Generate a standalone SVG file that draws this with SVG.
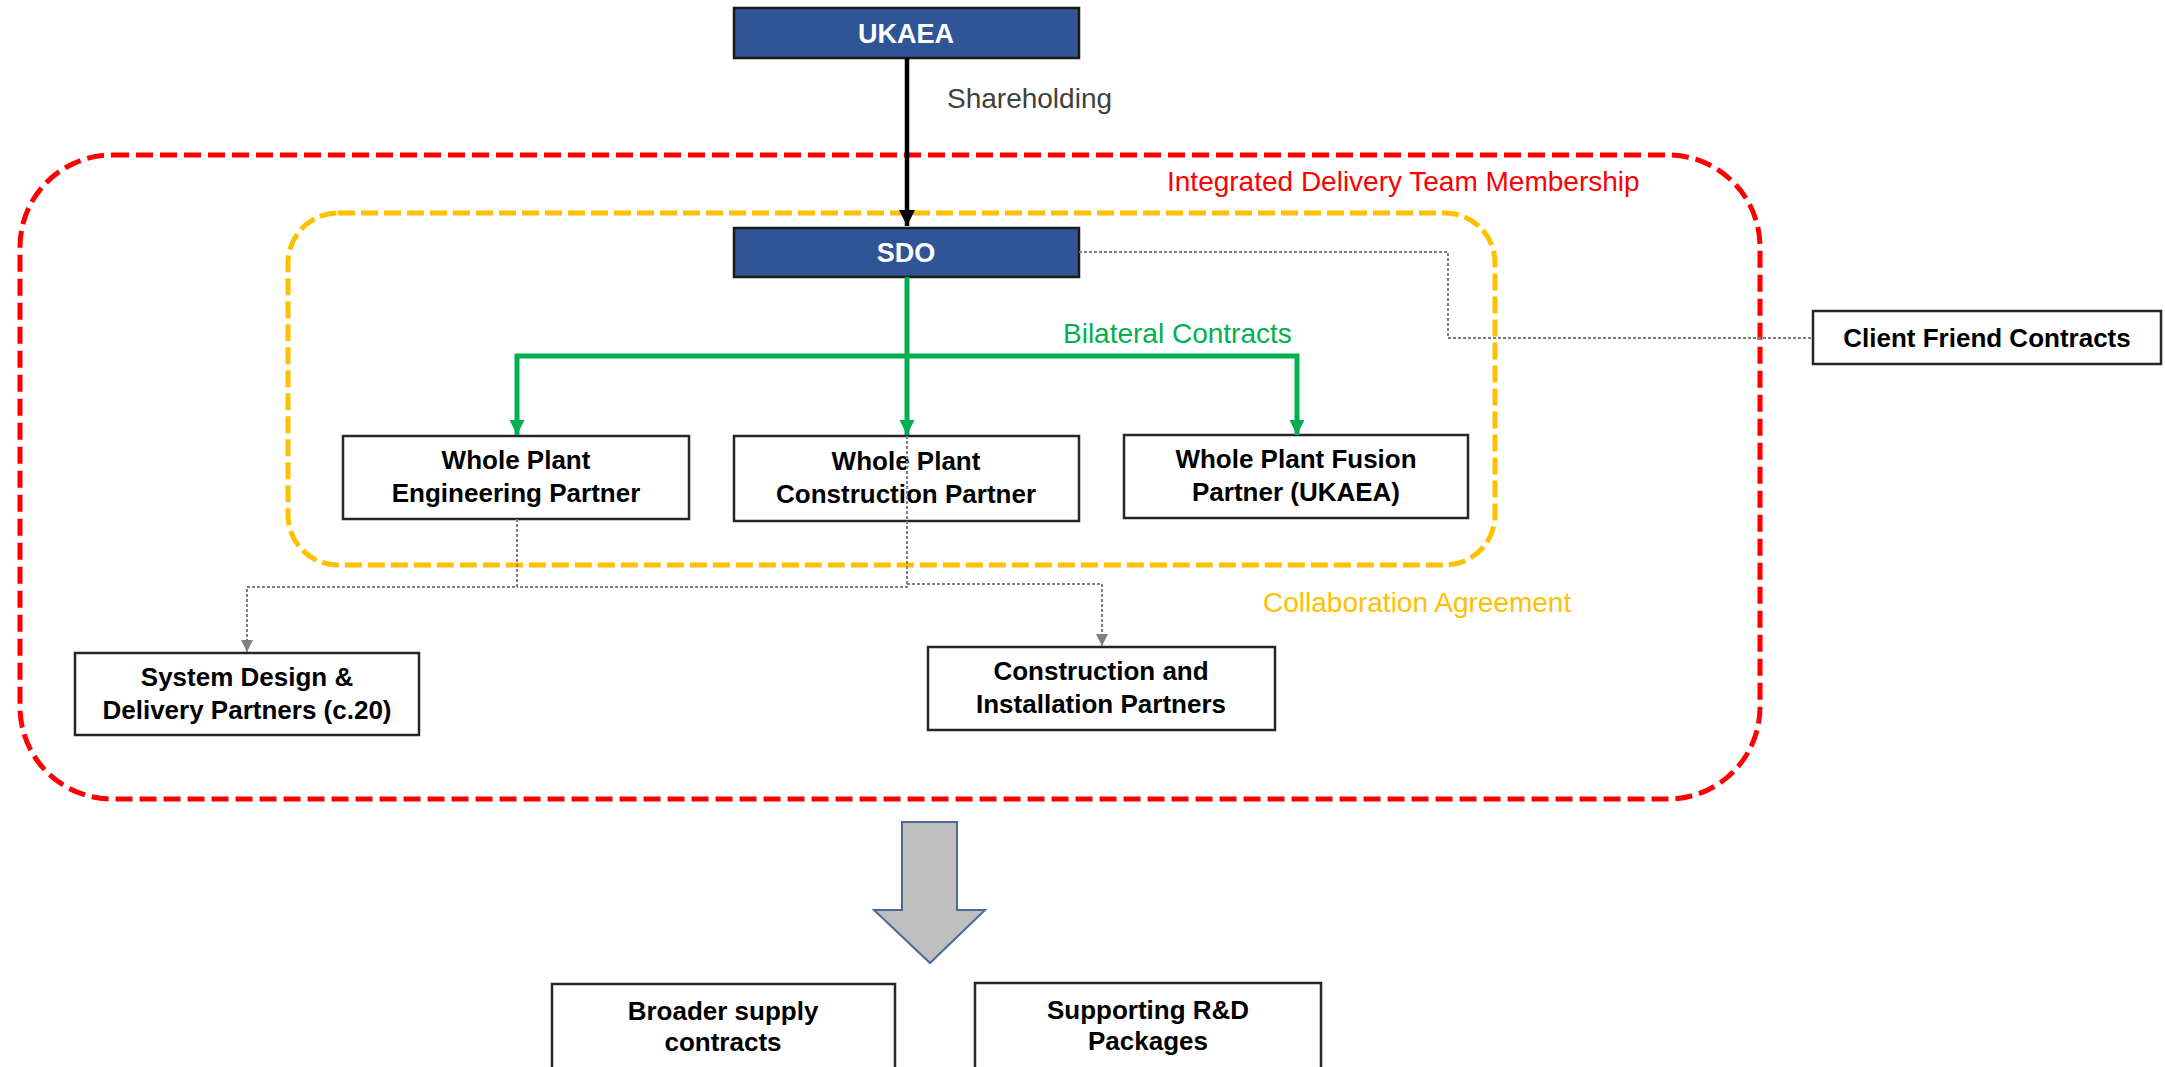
<svg xmlns="http://www.w3.org/2000/svg" width="2165" height="1067" viewBox="0 0 2165 1067">
<defs>
<style>
.bg{fill:#ffffff}
.box{fill:#ffffff;stroke:#262626;stroke-width:2.5}
.blue{fill:#2F5597;stroke:#1a1a1a;stroke-width:2.5}
.t{font-family:"Liberation Sans",Arial,sans-serif;font-weight:bold;font-size:26px;fill:#000;text-anchor:middle}
.tw{font-family:"Liberation Sans",Arial,sans-serif;font-weight:bold;font-size:27px;fill:#fff;text-anchor:middle}
.lbl{font-family:"Liberation Sans",Arial,sans-serif;font-size:28px}
.red{fill:none;stroke:#FF0000;stroke-width:5;stroke-dasharray:17 7}
.yel{fill:none;stroke:#FFC000;stroke-width:5;stroke-dasharray:17 6}
.green{fill:none;stroke:#00B050;stroke-width:5}
.black{fill:none;stroke:#000;stroke-width:4.5}
.gray{fill:none;stroke:#808080;stroke-width:2;stroke-dasharray:3 2}
</style>
<marker id="ag" viewBox="0 0 10 10" refX="10" refY="5" markerWidth="15" markerHeight="18" markerUnits="userSpaceOnUse" orient="auto"><path d="M0 0L10 5L0 10z" fill="#00B050"/></marker>
<marker id="ab" viewBox="0 0 10 10" refX="10" refY="5" markerWidth="16" markerHeight="17" markerUnits="userSpaceOnUse" orient="auto"><path d="M0 0L10 5L0 10z" fill="#000"/></marker>
<marker id="ay" viewBox="0 0 10 10" refX="10" refY="5" markerWidth="12" markerHeight="13" markerUnits="userSpaceOnUse" orient="auto"><path d="M0 0L10 5L0 10z" fill="#7f7f7f"/></marker>
</defs>
<rect class="bg" x="0" y="0" width="2165" height="1067"/>

<g id="boundaries">
<rect id="idt-boundary" class="red" x="20" y="155" width="1740" height="644" rx="92" ry="92"/>
<rect id="collab-boundary" class="yel" x="288" y="213" width="1207" height="352" rx="50" ry="50"/>
</g>

<g id="labels">
<text class="lbl" x="947" y="108" fill="#404040">Shareholding</text>
<text class="lbl" x="1167" y="191" fill="#FF0000">Integrated Delivery Team Membership</text>
<text class="lbl" x="1063" y="343" fill="#00B050">Bilateral Contracts</text>
<text class="lbl" x="1263" y="612" fill="#FFC000">Collaboration Agreement</text>
</g>

<g id="node-ukaea">
<rect class="blue" x="734" y="8" width="345" height="50"/>
<text class="tw" x="906" y="43">UKAEA</text>
</g>
<g id="node-sdo">
<rect class="blue" x="734" y="228" width="345" height="49"/>
<text class="tw" x="906" y="262">SDO</text>
</g>
<g id="node-client-friend">
<rect class="box" x="1813" y="311" width="348" height="53"/>
<text class="t" x="1987" y="347">Client Friend Contracts</text>
</g>
<g id="node-engineering">
<rect class="box" x="343" y="436" width="346" height="83"/>
<text class="t" x="516" y="469">Whole Plant</text>
<text class="t" x="516" y="502">Engineering Partner</text>
</g>
<g id="node-construction">
<rect class="box" x="734" y="436" width="345" height="85"/>
<text class="t" x="906" y="470">Whole Plant</text>
<text class="t" x="906" y="503">Construction Partner</text>
</g>
<g id="node-fusion">
<rect class="box" x="1124" y="435" width="344" height="83"/>
<text class="t" x="1296" y="468">Whole Plant Fusion</text>
<text class="t" x="1296" y="501">Partner (UKAEA)</text>
</g>
<g id="node-system-design">
<rect class="box" x="75" y="653" width="344" height="82"/>
<text class="t" x="247" y="686">System  Design &amp;</text>
<text class="t" x="247" y="719">Delivery Partners (c.20)</text>
</g>
<g id="node-construction-installation">
<rect class="box" x="928" y="647" width="347" height="83"/>
<text class="t" x="1101" y="680">Construction and</text>
<text class="t" x="1101" y="713">Installation Partners</text>
</g>
<g id="node-broader-supply">
<rect class="box" x="552" y="984" width="343" height="100"/>
<text class="t" x="723" y="1020">Broader supply</text>
<text class="t" x="723" y="1051">contracts</text>
</g>
<g id="node-supporting-rd">
<rect class="box" x="975" y="983" width="346" height="100"/>
<text class="t" x="1148" y="1019">Supporting R&amp;D</text>
<text class="t" x="1148" y="1050">Packages</text>
</g>

<g id="connectors">
<path class="black" d="M907 58V226" marker-end="url(#ab)"/>
<path class="green" d="M907 277V435" marker-end="url(#ag)"/>
<path class="green" d="M907 356H517V435" marker-end="url(#ag)"/>
<path class="green" d="M907 356H1297V435" marker-end="url(#ag)"/>
<path class="gray" d="M1079 252H1448V338H1813"/>
<path class="gray" d="M517 519V587H247V652" marker-end="url(#ay)"/>
<path class="gray" d="M907 436V587H517"/>
<path class="gray" d="M907 584H1102V646" marker-end="url(#ay)"/>
<path id="big-arrow" d="M902 822H957V910H985L930 963L874 910H902Z" fill="#BFBFBF" stroke="#4A6B9A" stroke-width="2"/>
</g>
</svg>
